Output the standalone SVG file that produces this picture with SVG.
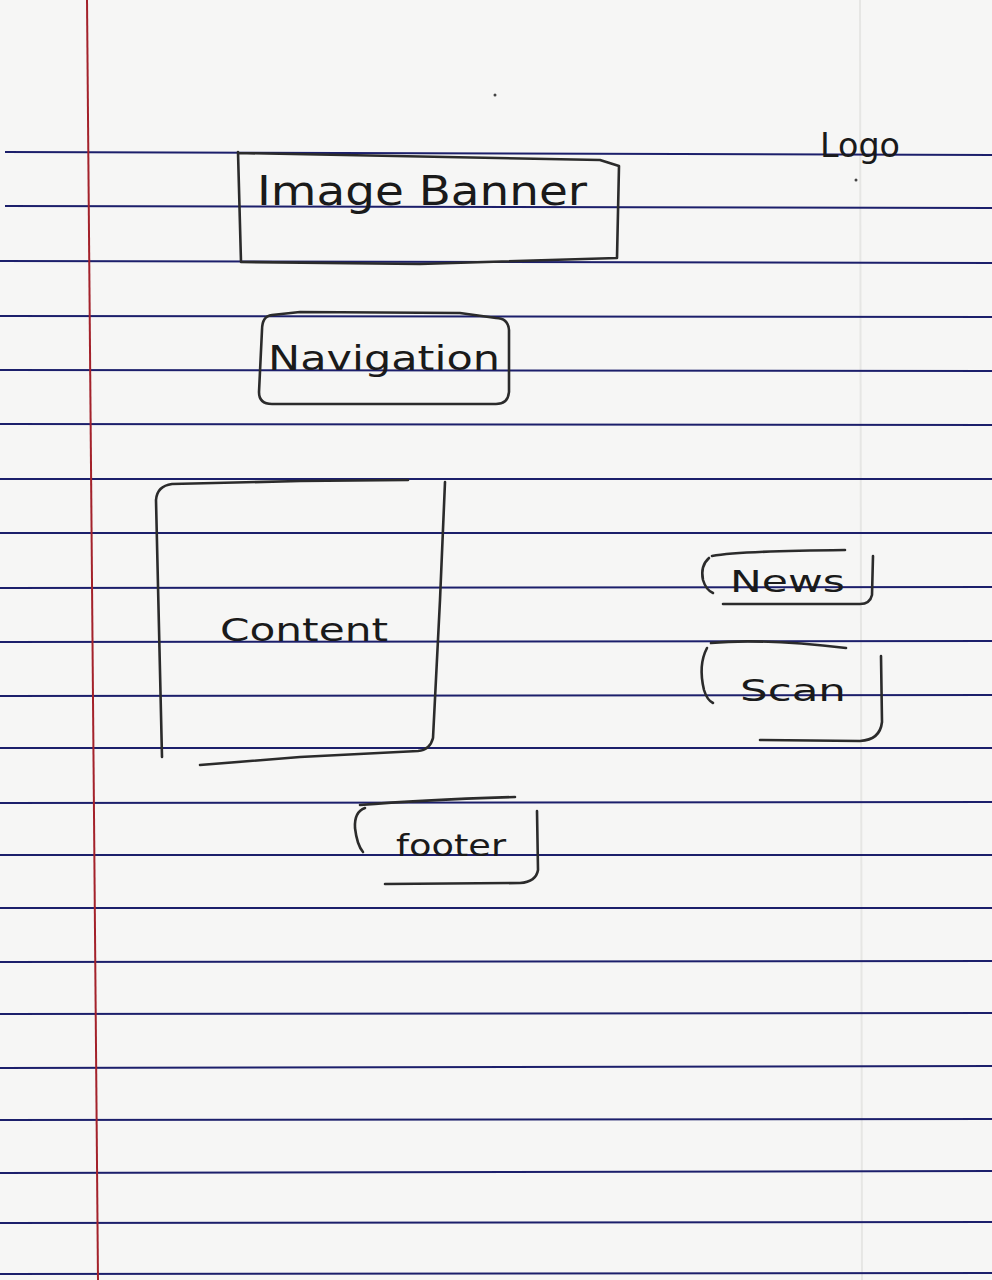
<svg xmlns="http://www.w3.org/2000/svg" width="992" height="1280" viewBox="0 0 992 1280">
  <style>
    .rule { stroke: #1c1f6b; stroke-width: 2; fill: none; }
    .pencil { stroke: #2b2b2b; stroke-width: 2.6; fill: none; stroke-linecap: round; stroke-linejoin: round; }
    .hand { font-family: "DejaVu Sans", "Liberation Sans", sans-serif; fill: #1a1a1a; font-weight: normal; }
  </style>

  <!-- paper -->
  <rect x="0" y="0" width="992" height="1280" fill="#f6f6f5"/>
  <line x1="860" y1="0" x2="862" y2="1280" stroke="#e6e6e4" stroke-width="2"/>

  <!-- ruled lines -->
  <g id="ruling">
    <path class="rule" d="M5 152 L992 155"/>
    <path class="rule" d="M5 206 L992 208"/>
    <path class="rule" d="M0 261 L992 263"/>
    <path class="rule" d="M0 316 L992 317"/>
    <path class="rule" d="M0 370 L992 371"/>
    <path class="rule" d="M0 424 L992 425"/>
    <path class="rule" d="M0 479 L992 479"/>
    <path class="rule" d="M0 533 L992 533"/>
    <path class="rule" d="M0 588 L992 587"/>
    <path class="rule" d="M0 642 L992 641"/>
    <path class="rule" d="M0 696 L992 695"/>
    <path class="rule" d="M0 748 L992 748"/>
    <path class="rule" d="M0 803 L992 802"/>
    <path class="rule" d="M0 855 L992 855"/>
    <path class="rule" d="M0 908 L992 908"/>
    <path class="rule" d="M0 962 L992 961"/>
    <path class="rule" d="M0 1014 L992 1013"/>
    <path class="rule" d="M0 1068 L992 1066"/>
    <path class="rule" d="M0 1120 L992 1119"/>
    <path class="rule" d="M0 1173 L992 1171"/>
    <path class="rule" d="M0 1223 L992 1222"/>
    <path class="rule" d="M0 1274 L992 1273"/>
  </g>

  <!-- margin line -->
  <line x1="87" y1="0" x2="98" y2="1280" stroke="#a3212a" stroke-width="2"/>

  <!-- stray pencil dots -->
  <circle cx="495" cy="95" r="1.5" fill="#444"/>
  <circle cx="856" cy="180" r="1.5" fill="#444"/>

  <g id="logo">
    <text class="hand" x="820" y="157" font-size="34" textLength="80" lengthAdjust="spacingAndGlyphs">Logo</text>
  </g>

  <g id="image-banner">
    <path class="pencil" d="M238 152 L241 262 L420 264 L617 258 L619 166 L600 160 L238 153"/>
    <text class="hand" x="257" y="205" font-size="40" textLength="330" lengthAdjust="spacingAndGlyphs">Image Banner</text>
  </g>

  <g id="navigation">
    <path class="pencil" d="M272 315 Q262 316 262 330 L259 392 Q259 404 272 404 L496 404 Q508 404 509 392 L509 330 Q508 318 496 318 L460 313 L300 312 Z"/>
    <text class="hand" x="268" y="370" font-size="34" textLength="232" lengthAdjust="spacingAndGlyphs">Navigation</text>
  </g>

  <g id="content">
    <path class="pencil" d="M162 757 L156 500 Q157 486 172 484 L300 481 L408 480"/>
    <path class="pencil" d="M445 482 L440 600 L433 738 Q430 750 418 751 L300 757 L200 765"/>
    <text class="hand" x="220" y="641" font-size="32" textLength="168" lengthAdjust="spacingAndGlyphs">Content</text>
  </g>

  <g id="news">
    <path class="pencil" d="M709 558 Q700 566 703 580 Q706 590 713 593"/>
    <path class="pencil" d="M712 556 Q740 551 845 550"/>
    <path class="pencil" d="M873 556 L872 595 Q870 604 860 604 L723 604"/>
    <text class="hand" x="730" y="592" font-size="30" textLength="115" lengthAdjust="spacingAndGlyphs">News</text>
  </g>

  <g id="scan">
    <path class="pencil" d="M707 648 Q698 665 704 690 Q707 700 713 703"/>
    <path class="pencil" d="M711 643 Q760 638 846 648"/>
    <path class="pencil" d="M881 656 L882 722 Q880 740 860 741 L760 740"/>
    <text class="hand" x="740" y="701" font-size="30" textLength="106" lengthAdjust="spacingAndGlyphs">Scan</text>
  </g>

  <g id="footer">
    <path class="pencil" d="M365 808 Q354 812 355 828 Q357 845 363 852"/>
    <path class="pencil" d="M360 805 Q420 800 515 797"/>
    <path class="pencil" d="M537 811 L538 870 Q536 882 520 883 L385 884"/>
    <text class="hand" x="396" y="856" font-size="30" textLength="110" lengthAdjust="spacingAndGlyphs">footer</text>
  </g>

  <g id="connectors"/>
</svg>
